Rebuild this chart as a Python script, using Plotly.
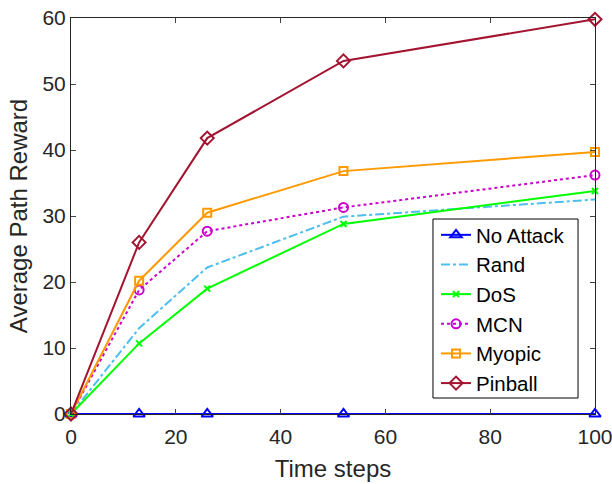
import plotly.graph_objects as go

x = [0, 13, 26, 52, 100]
no_attack = [0, 0, 0, 0, 0]
rand = [0, 13.0, 22.2, 29.9, 32.5]
dos = [0, 10.7, 19.0, 28.8, 33.8]
mcn = [0, 18.8, 27.7, 31.3, 36.2]
myopic = [0, 20.2, 30.5, 36.8, 39.7]
pinball = [0, 26.0, 41.8, 53.5, 59.8]

xticks = [0, 20, 40, 60, 80, 100]
yticks = [0, 10, 20, 30, 40, 50, 60]

series = [
    ("No Attack", no_attack, "#0000FF", "solid", "triangle-up-open", 10),
    ("Rand", rand, "#4DBEEE", "dashdot", None, 0),
    ("DoS", dos, "#00FF00", "solid", "x-thin-open", 6),
    ("MCN", mcn, "#CC00CC", "dot", "circle-open", 9),
    ("Myopic", myopic, "#FF9900", "solid", "square-open", 8),
    ("Pinball", pinball, "#A2142F", "solid", "diamond-open", 10),
]

fig = go.Figure()
for name, ys, color, dash, sym, size in series:
    mode = "lines+markers" if sym else "lines"
    kw = {}
    if sym:
        kw["marker"] = dict(symbol=sym, size=size, color=color, line=dict(color=color, width=2))
    fig.add_trace(go.Scatter(x=x, y=ys, name=name, mode=mode, cliponaxis=False,
                             line=dict(color=color, width=2, dash=dash), **kw))

# legend frame (opaque white box with black border), legend entries drawn on top
fig.add_shape(type="rect", xref="paper", yref="paper",
              x0=0.6908, x1=0.9676, y0=0.0404, y1=0.4924,
              line=dict(color="black", width=1), fillcolor="white", layer="above")

fig.update_layout(
    width=612, height=484,
    margin=dict(l=71, r=17, t=18, b=70),
    paper_bgcolor="white", plot_bgcolor="white",
    font=dict(family="Liberation Sans, Arial, sans-serif", size=21, color="#262626"),
    legend=dict(x=0.6966, y=0.5025, xanchor="left", yanchor="top",
                bgcolor="rgba(0,0,0,0)", borderwidth=0,
                font=dict(size=20.5, color="black"), tracegroupgap=0, itemwidth=30),
    showlegend=True,
)
fig.update_xaxes(range=[0, 100], tickvals=xticks, ticks="inside", ticklen=5,
                 showline=True, mirror="ticks", linecolor="#262626", linewidth=1,
                 showgrid=False, zeroline=False, automargin=False,
                 ticklabeloverflow="allow", ticklabelstandoff=4,
                 title=dict(text="Time steps", font=dict(size=24), standoff=12),
                 tickfont=dict(size=21))
fig.update_yaxes(range=[0, 60], tickvals=yticks, ticks="inside", ticklen=5,
                 showline=True, mirror="ticks", linecolor="#262626", linewidth=1,
                 showgrid=False, zeroline=False, automargin=False,
                 ticklabeloverflow="allow",
                 title=dict(text="Average Path Reward", font=dict(size=24), standoff=8),
                 tickfont=dict(size=21))

fig.write_html("out.html", config={"displayModeBar": False},
               post_script="document.body.style.margin='0px';")
